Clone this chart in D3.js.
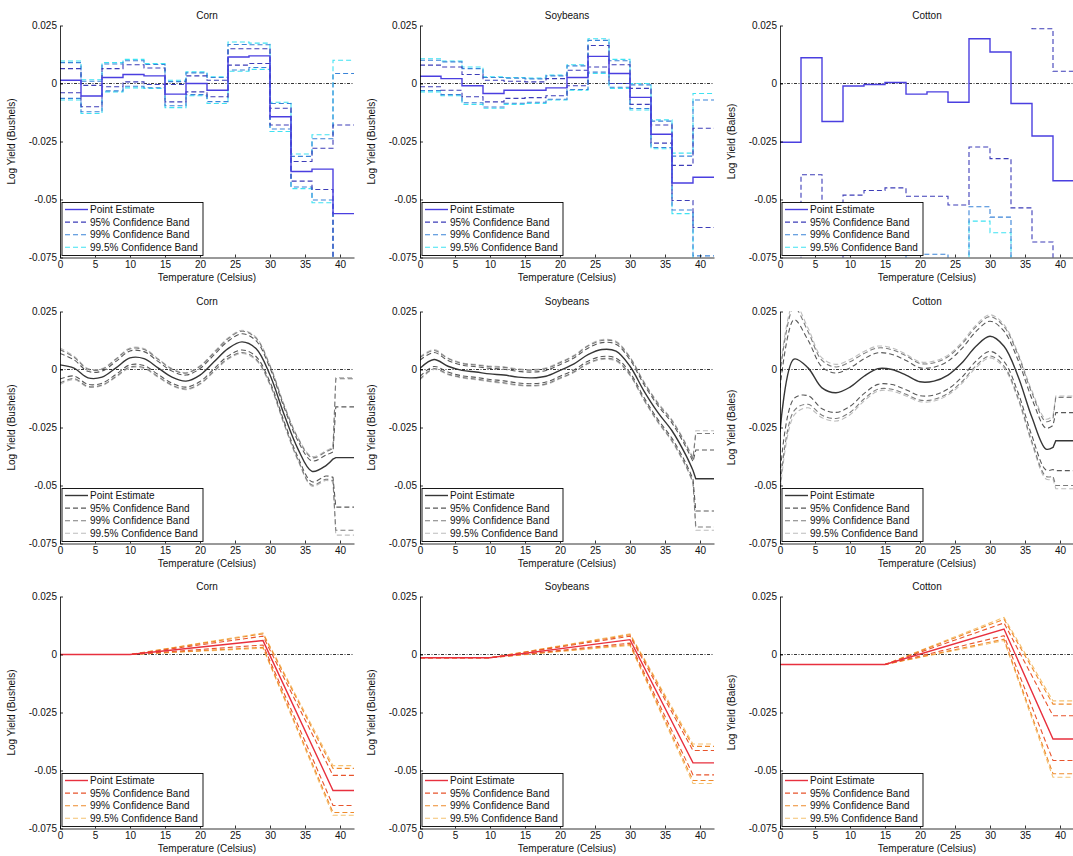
<!DOCTYPE html>
<html lang="en">
<head>
<meta charset="UTF-8">
<title>Temperature and log yield: Corn, Soybeans, Cotton</title>
<script src="https://d3js.org/d3.v7.min.js"></script>
<style>
  body { margin: 0; background: #fff; }
  svg { font-family: "Liberation Sans", Arial, sans-serif; }
  .axis path, .axis line { stroke: #000; stroke-width: 0.8; fill: none; }
  .axis text { font-size: 10px; fill: #111; }
  .title, .xlabel, .ylabel { font-size: 10px; fill: #111; text-anchor: middle; }
  .legend text { font-size: 10px; fill: #111; }
</style>
</head>
<body>
<svg width="1073" height="856"></svg>
<script>
// crops (columns) and labels
var crops = ["Corn", "Soybeans", "Cotton"];
var yUnits = ["Bushels", "Bushels", "Bales"];
var legendNames = ["Point Estimate", "95% Confidence Band", "99% Confidence Band", "99.5% Confidence Band"];
var xTicks = [0, 5, 10, 15, 20, 25, 30, 35, 40];
var yTicks = [0.025, 0, -0.025, -0.05, -0.075];
var yTickLabels = ["0.025", "0", "-0.025", "-0.05", "-0.075"];

// all yields below are in units of 0.001 log yield
// ---- row 1: 3-degree temperature bins (0-3, 3-6, ... 39-42)
var binStarts = [0, 3, 6, 9, 12, 15, 18, 21, 24, 27, 30, 33, 36, 39];
var cornBinEst   = [1.4, -5.4, 2.6, 3.9, 3.3, -4.6, 0.0, -2.9, 11.4, 11.9, -14.3, -37.9, -36.9, -56.1];
var cornBinHi95  = [6.4, -0.8, 6.4, 8.1, 6.7, -0.4, 3.3, 1.4, 15.0, 15.0, -10.7, -33.6, -27.9, -17.9];
var cornBinLo95  = [-4.0, -10.0, -1.4, 0.7, -0.4, -7.9, -3.6, -5.7, 7.9, 8.6, -17.9, -42.1, -45.7, -94.0];
var cornBinHi99  = [9.0, 1.0, 8.4, 9.8, 8.2, 0.8, 4.6, 2.6, 16.8, 16.7, -8.6, -31.4, -23.8, 4.3];
var cornBinLo99  = [-6.4, -12.2, -3.2, -1.2, -1.8, -9.6, -4.8, -7.8, 5.8, 6.9, -19.6, -44.6, -50.2, -116];
var cornBinHi995 = [9.7, 1.6, 9.0, 10.4, 8.6, 1.4, 5.0, 2.9, 17.9, 17.4, -8.1, -30.4, -22.1, 10.0];
var cornBinLo995 = [-7.1, -12.9, -3.6, -1.9, -2.1, -10.4, -5.3, -8.6, 5.3, 6.1, -20.7, -45.3, -51.4, -122];

var soyBinEst   = [3.1, 2.1, -1.0, -4.3, -2.9, -2.9, -1.9, 2.6, 11.7, 4.3, -6.0, -21.9, -42.9, -40.4];
var soyBinHi95  = [7.9, 7.1, 3.9, 1.4, 1.0, 0.7, 2.1, 5.7, 16.4, 8.1, -2.1, -17.9, -35.3, -19.3];
var soyBinLo95  = [-1.4, -2.9, -5.7, -7.9, -6.4, -6.1, -5.3, -1.0, 7.1, 0.0, -9.0, -25.7, -50.4, -62.1];
var soyBinHi99  = [10.0, 9.3, 6.4, 2.6, 2.3, 2.0, 3.3, 7.6, 18.6, 9.8, -0.6, -16.2, -31.3, -7.1];
var soyBinLo99  = [-3.0, -4.8, -8.3, -10.1, -8.5, -8.1, -6.8, -2.6, 4.9, -1.6, -10.8, -27.6, -54.5, -74.3];
var soyBinHi995 = [10.7, 9.7, 7.1, 2.9, 2.6, 2.3, 3.6, 8.1, 19.3, 10.4, 0.0, -15.7, -30.0, -4.3];
var soyBinLo995 = [-3.6, -5.3, -9.0, -10.7, -9.0, -8.6, -7.1, -2.9, 4.3, -2.1, -11.4, -28.1, -56.1, -80];

var cottonBinEst   = [-25.3, 11.1, -16.4, -1.1, -0.4, 0.4, -4.6, -3.6, -8.1, 19.3, 13.6, -8.6, -22.6, -41.9];
var cottonBinHi95  = [34.4, 61.5, 47.2, 45.9, 45.3, 45.8, 39.4, 41.4, 36.2, 66.0, 59.6, 36.4, 23.6, 5.3];
var cottonBinLo95  = [-85, -39.3, -80, -48.1, -46.1, -45.0, -48.6, -48.6, -52.4, -27.4, -32.4, -53.6, -68.3, -90];
var cottonBinHi99  = [50, 80, 65, 60, 60, 60, 55, 56, 52, 80, 75, 50, 35, 30];
var cottonBinLo99  = [-110, -80, -110, -78, -76, -76, -73.6, -73.6, -78, -53.1, -57.6, -80, -95, -110];
var cottonBinHi995 = [55, 85, 70, 65, 64, 64, 60, 60, 56, 85, 80, 55, 40, 35];
var cottonBinLo995 = [-120, -90, -120, -85, -82, -82, -80, -80, -85, -59.3, -64.3, -90, -100, -120];

// ---- row 2: smooth spline, read every 2 degrees, then the flat tail above 39
var splineX = [0, 2, 4, 6, 8, 10, 12, 14, 16, 18, 20, 22, 24, 26, 28, 30, 32, 34, 36, 38, 39, 39.4, 42];
var cornSplEst   = [2.0, 0.6, -3.6, -3.3, 0.7, 5.0, 4.7, 0.7, -3.3, -5.0, -2.4, 3.3, 9.0, 11.9, 9.0, -2.4, -19.3, -34.3, -43.9, -41.4, -38.6, -38.0, -38.0];
var cornSplHi95  = [6.9, 4.2, -0.8, -0.7, 3.5, 8.0, 7.7, 3.5, -0.7, -2.4, 0.4, 6.3, 12.2, 15.4, 12.4, 0.6, -16.3, -30.8, -39.4, -36.9, -35.5, -16.1, -16.1];
var cornSplLo95  = [-4.1, -2.8, -6.4, -5.9, -2.1, 2.0, 1.7, -2.1, -5.9, -7.6, -5.2, 0.3, 5.8, 8.4, 5.6, -5.4, -22.3, -37.8, -48.4, -45.9, -46.5, -59.3, -59.3];
var cornSplHi99  = [8.6, 5.3, 0.1, 0.1, 4.4, 8.9, 8.6, 4.4, 0.1, -1.6, 1.3, 7.2, 13.2, 16.5, 13.5, 1.5, -15.4, -29.7, -38.0, -35.5, -34.0, -4.0, -4.0];
var cornSplLo99  = [-5.8, -3.9, -7.3, -6.7, -3.0, 1.1, 0.8, -3.0, -6.7, -8.4, -6.1, -0.6, 4.8, 7.3, 4.5, -6.3, -23.2, -38.9, -49.8, -47.3, -48.0, -69.3, -69.3];
var cornSplHi995 = [9.3, 5.7, 0.4, 0.4, 4.7, 9.3, 9.0, 4.7, 0.4, -1.3, 1.6, 7.6, 13.6, 16.9, 13.9, 1.9, -15.0, -29.3, -37.5, -35.0, -33.5, -3.5, -3.5];
var cornSplLo995 = [-6.5, -4.3, -7.6, -7.0, -3.3, 0.7, 0.4, -3.3, -7.0, -8.7, -6.4, -1.0, 4.4, 6.9, 4.1, -6.7, -23.6, -39.3, -50.3, -47.8, -48.5, -71.4, -71.4];

var soySplEst   = [0.5, 4.3, 1.4, -0.4, -1.1, -1.9, -2.4, -3.3, -3.6, -2.9, -0.4, 2.4, 6.4, 8.6, 7.9, 1.4, -9.3, -18.6, -26.4, -37.0, -43.5, -47.1, -47.1];
var soySplHi95  = [4.0, 7.3, 3.9, 1.9, 1.2, 0.5, 0.1, -0.8, -1.1, -0.4, 2.1, 5.0, 9.2, 11.6, 10.9, 4.2, -6.5, -15.6, -23.1, -33.5, -39.7, -34.7, -34.7];
var soySplLo95  = [-3.0, 1.3, -1.1, -2.7, -3.4, -4.3, -4.9, -5.8, -6.1, -5.4, -2.9, -0.2, 3.6, 5.6, 4.9, -1.4, -12.1, -21.6, -29.7, -40.5, -47.3, -61.0, -61.0];
var soySplHi99  = [5.1, 8.2, 4.7, 2.6, 1.9, 1.2, 0.9, 0.0, -0.3, 0.4, 2.9, 5.8, 10.1, 12.5, 11.8, 5.1, -5.6, -14.7, -22.1, -32.4, -38.5, -27.6, -27.6];
var soySplLo99  = [-4.1, 0.4, -1.9, -3.4, -4.1, -5.0, -5.7, -6.6, -6.9, -6.2, -3.7, -1.0, 2.7, 4.7, 4.0, -2.3, -13.0, -22.5, -30.7, -41.6, -48.5, -67.9, -67.9];
var soySplHi995 = [5.5, 8.6, 5.0, 2.9, 2.2, 1.5, 1.2, 0.3, 0.0, 0.7, 3.2, 6.1, 10.4, 12.9, 12.2, 5.4, -5.3, -14.3, -21.7, -32.0, -38.1, -26.4, -26.4];
var soySplLo995 = [-4.5, 0.0, -2.2, -3.7, -4.4, -5.3, -6.0, -6.9, -7.2, -6.5, -4.0, -1.3, 2.4, 4.3, 3.6, -2.6, -13.3, -22.9, -31.1, -42.0, -48.9, -69.3, -69.3];

var cottonSplEst   = [-27.0, 4.5, 0.7, -7.9, -10.0, -7.6, -2.9, 0.4, 0.0, -2.4, -5.3, -5.0, -2.4, 2.9, 10.0, 14.3, 10.0, -2.9, -20.7, -34.3, -33.6, -30.7, -30.7];
var cottonSplHi95  = [-8.0, 21.5, 12.7, 1.1, -1.5, 0.7, 4.6, 7.2, 6.5, 3.9, 0.7, 1.0, 3.6, 9.1, 16.4, 20.8, 16.5, 4.1, -12.7, -25.3, -24.1, -18.6, -18.6];
var cottonSplLo95  = [-46.0, -12.5, -11.3, -16.9, -18.5, -15.9, -10.4, -6.4, -6.5, -8.7, -11.3, -11.0, -8.4, -3.3, 3.6, 7.8, 3.5, -9.9, -28.7, -43.3, -43.1, -43.6, -43.6];
var cottonSplHi99  = [-2.1, 26.8, 16.4, 3.9, 1.1, 3.3, 6.9, 9.3, 8.5, 5.9, 2.6, 2.9, 5.5, 11.0, 18.4, 22.8, 18.5, 6.3, -10.2, -22.5, -21.2, -12.0, -12.0];
var cottonSplLo99  = [-51.9, -17.8, -15.0, -19.7, -21.1, -18.5, -12.7, -8.5, -8.5, -10.7, -13.2, -12.9, -10.3, -5.2, 1.6, 5.8, 1.5, -12.1, -31.2, -46.1, -46.0, -50.0, -50.0];
var cottonSplHi995 = [0.2, 28.8, 17.9, 5.0, 2.2, 4.3, 7.8, 10.1, 9.3, 6.6, 3.3, 3.6, 6.2, 11.8, 19.2, 23.6, 19.3, 7.1, -9.3, -21.4, -20.0, -11.4, -11.4];
var cottonSplLo995 = [-54.2, -19.8, -16.5, -20.8, -22.2, -19.5, -13.6, -9.3, -9.3, -11.4, -13.9, -13.6, -11.0, -6.0, 0.8, 5.0, 0.7, -12.9, -32.1, -47.2, -47.2, -51.4, -51.4];

// ---- row 3: piecewise linear, values at the knots
var cornKnots = [0, 10, 29, 39, 42];
var cornLinEst   = [0, 0, 6.0, -58.6, -58.6];
var cornLinHi95  = [0, 0, 7.9, -52.1, -52.1];
var cornLinLo95  = [0, 0, 4.1, -65.1, -65.1];
var cornLinHi99  = [0, 0, 8.9, -49.1, -49.1];
var cornLinLo99  = [0, 0, 3.1, -68.1, -68.1];
var cornLinHi995 = [0, 0, 9.3, -47.9, -47.9];
var cornLinLo995 = [0, 0, 2.7, -69.3, -69.3];

var soyKnots = [0, 10, 30, 39, 42];
var soyLinEst   = [-1.4, -1.4, 6.4, -46.7, -46.7];
var soyLinHi95  = [-1.4, -1.4, 7.9, -41.4, -41.4];
var soyLinLo95  = [-1.4, -1.4, 4.9, -51.9, -51.9];
var soyLinHi99  = [-1.4, -1.4, 8.5, -39.6, -39.6];
var soyLinLo99  = [-1.4, -1.4, 4.3, -54.3, -54.3];
var soyLinHi995 = [-1.4, -1.4, 8.9, -38.6, -38.6];
var soyLinLo995 = [-1.4, -1.4, 3.9, -55.6, -55.6];

var cottonKnots = [0, 15, 32, 39, 42];
var cottonLinEst   = [-4.3, -4.3, 11.0, -36.4, -36.4];
var cottonLinHi95  = [-4.3, -4.3, 13.6, -26.4, -26.4];
var cottonLinLo95  = [-4.3, -4.3, 8.1, -45.7, -45.7];
var cottonLinHi99  = [-4.3, -4.3, 15.2, -21.4, -21.4];
var cottonLinLo99  = [-4.3, -4.3, 6.6, -51.4, -51.4];
var cottonLinHi995 = [-4.3, -4.3, 16.0, -20.0, -20.0];
var cottonLinLo995 = [-4.3, -4.3, 6.0, -52.9, -52.9];

// colours for [estimate, 95%, 99%, 99.5%]
var blueColors = ["#4a3fe0", "#3d3db8", "#3a84d8", "#3fe2f2"];
var grayColors = ["#363636", "#585858", "#7c7c7c", "#bdbdbd"];
var redColors  = ["#e8303e", "#e8542c", "#ee8a2c", "#f5c272"];

// layout
var lefts = [60, 420, 780];
var tops = [25.5, 311.5, 596.5];
var plotW = 294, plotH = 232;

var svg = d3.select("svg");

var rows = [
    {kind: "step", colors: blueColors, panels: [
        {x: binStarts, s: [cornBinEst, cornBinHi95, cornBinLo95, cornBinHi99, cornBinLo99, cornBinHi995, cornBinLo995]},
        {x: binStarts, s: [soyBinEst, soyBinHi95, soyBinLo95, soyBinHi99, soyBinLo99, soyBinHi995, soyBinLo995]},
        {x: binStarts, s: [cottonBinEst, cottonBinHi95, cottonBinLo95, cottonBinHi99, cottonBinLo99, cottonBinHi995, cottonBinLo995]}
    ]},
    {kind: "spline", colors: grayColors, panels: [
        {x: splineX, s: [cornSplEst, cornSplHi95, cornSplLo95, cornSplHi99, cornSplLo99, cornSplHi995, cornSplLo995]},
        {x: splineX, s: [soySplEst, soySplHi95, soySplLo95, soySplHi99, soySplLo99, soySplHi995, soySplLo995]},
        {x: splineX, s: [cottonSplEst, cottonSplHi95, cottonSplLo95, cottonSplHi99, cottonSplLo99, cottonSplHi995, cottonSplLo995]}
    ]},
    {kind: "linear", colors: redColors, panels: [
        {x: cornKnots, s: [cornLinEst, cornLinHi95, cornLinLo95, cornLinHi99, cornLinLo99, cornLinHi995, cornLinLo995]},
        {x: soyKnots, s: [soyLinEst, soyLinHi95, soyLinLo95, soyLinHi99, soyLinLo99, soyLinHi995, soyLinLo995]},
        {x: cottonKnots, s: [cottonLinEst, cottonLinHi95, cottonLinLo95, cottonLinHi99, cottonLinLo99, cottonLinHi995, cottonLinLo995]}
    ]}
];
// band level of each series: estimate, 95, 95, 99, 99, 99.5, 99.5
var levels = [0, 1, 1, 2, 2, 3, 3];

function pathFor(kind, xs, vals, x, y) {
    var line = d3.line().x(function(d) { return x(d[0]); }).y(function(d) { return y(d[1] / 1000); });
    if (kind === "step") {
        var pts = xs.map(function(t, i) { return [t, vals[i]]; });
        pts.push([42, vals[vals.length - 1]]);
        return line.curve(d3.curveStepAfter)(pts);
    }
    if (kind === "spline") {
        var n = xs.length;
        var smooth = xs.slice(0, n - 2).map(function(t, i) { return [t, vals[i]]; });
        var tail = xs.slice(n - 3).map(function(t, i) { return [t, vals[n - 3 + i]]; });
        var a = line.curve(d3.curveCatmullRom.alpha(0.5))(smooth);
        var b = line.curve(d3.curveLinear)(tail);
        return a + "L" + b.slice(1);
    }
    return line.curve(d3.curveLinear)(xs.map(function(t, i) { return [t, vals[i]]; }));
}

rows.forEach(function(row, r) {
    row.panels.forEach(function(p, c) {
        var left = lefts[c], top = tops[r];
        var x = d3.scaleLinear().domain([0, 42]).range([left, left + plotW]);
        var y = d3.scaleLinear().domain([-0.075, 0.025]).range([top + plotH, top]);
        var g = svg.append("g");
        var clipId = "clip" + r + c;

        g.append("clipPath").attr("id", clipId)
            .append("rect").attr("x", left).attr("y", top - 0.5).attr("width", plotW).attr("height", plotH + 0.5);

        var plot = g.append("g").attr("clip-path", "url(#" + clipId + ")");

        // zero reference line
        plot.append("line")
            .attr("x1", x(0)).attr("x2", x(42))
            .attr("y1", y(0)).attr("y2", y(0))
            .attr("stroke", "#000").attr("stroke-width", 0.8)
            .attr("stroke-dasharray", "3,1.5,1,1.5");

        // bands from widest to point estimate
        var order = [5, 6, 3, 4, 1, 2, 0];
        order.forEach(function(k) {
            var lvl = levels[k];
            plot.append("path")
                .attr("d", pathFor(row.kind, p.x, p.s[k], x, y))
                .attr("fill", "none")
                .attr("stroke", row.colors[lvl])
                .attr("stroke-width", lvl === 0 ? 1.4 : 1.1)
                .attr("stroke-dasharray", lvl === 0 ? null : "5,3");
        });

        // axes
        g.append("g").attr("class", "axis")
            .attr("transform", "translate(0," + (top + plotH) + ")")
            .call(d3.axisBottom(x).tickValues(xTicks).tickSizeInner(-3).tickSizeOuter(0).tickPadding(3));
        g.append("g").attr("class", "axis")
            .attr("transform", "translate(" + left + ",0)")
            .call(d3.axisLeft(y).tickValues(yTicks)
                .tickFormat(function(d, i) { return yTickLabels[i]; })
                .tickSizeInner(-3).tickSizeOuter(0).tickPadding(3));

        // labels
        g.append("text").attr("class", "title")
            .attr("x", left + plotW / 2).attr("y", top - 7)
            .text(crops[c]);
        g.append("text").attr("class", "xlabel")
            .attr("x", left + plotW / 2).attr("y", top + plotH + 23)
            .text("Temperature (Celsius)");
        g.append("text").attr("class", "ylabel")
            .attr("transform", "translate(" + (left - 45) + "," + (top + plotH / 2) + ") rotate(-90)")
            .text("Log Yield (" + yUnits[c] + ")");

        // legend
        var lg = g.append("g").attr("class", "legend")
            .attr("transform", "translate(" + (left + 2) + "," + (top + plotH - 55) + ")");
        lg.append("rect").attr("width", 141).attr("height", 53)
            .attr("fill", "#fff").attr("stroke", "#000").attr("stroke-width", 0.9);
        legendNames.forEach(function(name, i) {
            var ly = 7 + i * 12.6;
            lg.append("line")
                .attr("x1", 3).attr("x2", 26).attr("y1", ly).attr("y2", ly)
                .attr("stroke", row.colors[i])
                .attr("stroke-width", i === 0 ? 1.4 : 1.1)
                .attr("stroke-dasharray", i === 0 ? null : "5,3");
            lg.append("text").attr("x", 28).attr("y", ly + 3.5).text(name);
        });
    });
});
</script>
</body>
</html>
